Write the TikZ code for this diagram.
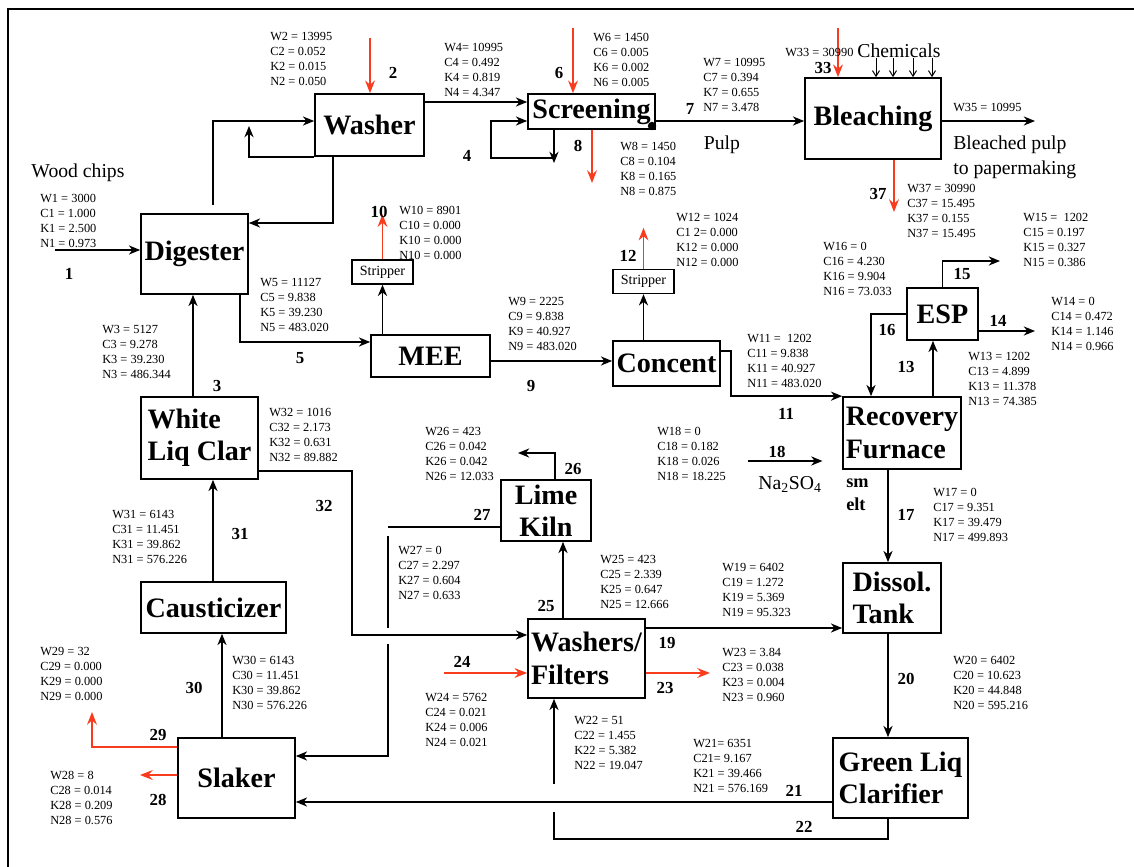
\documentclass[tikz,border=0pt]{standalone}
\usepackage{fontspec}
\setmainfont{Liberation Serif}
\usetikzlibrary{arrows.meta}
\definecolor{sred}{RGB}{250,60,30}
\tikzset{pfd/.style={x=0.025cm,y=-0.025cm}}
\tikzset{unit/.style={draw,line width=1.2pt,inner sep=0pt,align=left,
           font=\fontsize{20}{23}\selectfont\bfseries},
         stripbox/.style={draw,line width=1pt,inner sep=0pt,minimum width=1.525cm,
           minimum height=0.6cm,font=\fontsize{10}{12}\selectfont},
         data/.style={anchor=north west,inner sep=0pt,align=left,
           font=\fontsize{8.8}{10.6}\selectfont},
         num/.style={inner sep=0pt,font=\fontsize{12}{14}\selectfont\bfseries},
         note/.style={inner sep=0pt,align=left,font=\fontsize{14}{17.5}\selectfont}}
\tikzset{flow/.style={line width=1.1pt,-{Stealth[length=8pt,width=6.5pt,inset=2.5pt]}},
         rflow/.style={draw=sred,line width=1pt,-{Stealth[length=9pt,width=7pt,inset=3pt]}},
         chem/.style={line width=0.7pt,-{Straight Barb[length=4pt,width=5pt]}}}

\begin{document}
\begin{tikzpicture}[pfd]
    \useasboundingbox (0,0) rectangle (1134,867);
    \draw[line width=1.5pt] (8,867) -- (8,9) -- (1134,9);
    % process units
    \node[unit,minimum width=2.725cm,minimum height=1.55cm]  (wash)   at (369.5,125)   {Washer};
    \node[unit,minimum width=2.675cm,minimum height=2cm]     (dig)    at (194.5,254)   {Digester};
    \node[unit,minimum width=3.175cm,minimum height=0.875cm] (scr)    at (591.5,111.5) {Screening};
    \node[unit,minimum width=3.4cm,minimum height=2.025cm]   (bleach) at (873,118.5)   {Bleaching};
    \node[stripbox] (stripA) at (382.5,272)   {Stripper};
    \node[stripbox] (stripB) at (643.5,281.5) {Stripper};
    \node[unit,minimum width=2.975cm,minimum height=1.05cm]  (mee)    at (430.5,356)   {MEE};
    \node[unit,minimum width=2.675cm,minimum height=1.125cm] (conc)   at (666.5,363.5) {Concent};
    \node[unit,minimum width=1.775cm,minimum height=1.3cm]   (esp)    at (942.5,314)   {ESP};
    \node[unit,minimum width=2.95cm,minimum height=1.8cm]    (rec)    at (902,433)     {Recovery\\Furnace};
    \node[unit,minimum width=2.925cm,minimum height=2.05cm]  (wlc)    at (199.5,438)   {White\\Liq Clar};
    \node[unit,minimum width=2.25cm,minimum height=1.525cm,align=center] (kiln) at (546,510.5) {Lime\\Kiln};
    \node[unit,minimum width=3.625cm,minimum height=1.275cm] (caus)   at (213.5,607.5) {Causticizer};
    \node[unit,minimum width=2.925cm,minimum height=2cm]     (slak)   at (236.5,778)   {Slaker};
    \node[unit,minimum width=2.925cm,minimum height=1.975cm] (wf)     at (586.5,658.5) {Washers/\\Filters};
    \node[unit,minimum width=2.45cm,minimum height=1.75cm]   (diss)   at (892,598)     {Dissol.\\Tank};
    \node[unit,minimum width=3.375cm,minimum height=2cm]     (glc)    at (900.5,778)   {Green Liq\\Clarifier};
    % free ends
    \coordinate (in1) at (55,250);
    \coordinate (in2) at (370,38);
    \coordinate (in6) at (573,28);
    \coordinate (in33) at (838,28);
    \coordinate (in18) at (748,461);
    \coordinate (in24) at (444,673);
    \coordinate (out8) at (592,183);
    \coordinate (out35) at (1035,121);
    \coordinate (out37) at (894,212);
    \coordinate (out14) at (1035,331);
    \coordinate (out15) at (1000,261);
    \coordinate (out23) at (710,673);
    \coordinate (out26) at (518,453);
    \coordinate (out28) at (140,775);
    \coordinate (out29) at (92,712);
    % fibre line
    \draw[flow] (in1) -- (in1 -| dig.west);
    \draw[flow,shorten <=6pt] (dig.north -| 213,0) |- (wash.west |- 0,121);
    \draw[flow] (wash.south west) -| (249,126);
    \draw[flow] (wash.south -| 333,0) |- (dig.east |- 0,223);
    \draw[rflow] (in2) -- (in2 |- wash.north);
    \draw[flow] (wash.east |- 0,102) -- (scr.west |- 0,102);
    \draw[flow] (scr.south -| 554,0) -- (554,163);
    \draw[flow] (554,158) -| (491,121) -- (scr.west |- 0,121);
    \draw[rflow] (in6) -- (in6 |- scr.north);
    \draw[rflow] (scr.south -| out8) -- (out8);
    \draw[flow] (scr.east |- 0,121) -- (bleach.west |- 0,121);
    \fill (652,126) circle (3pt);
    \draw[rflow] (in33) -- (in33 |- bleach.north);
    \foreach \x in {876,893,913,932} \draw[chem] (\x,58) -- (\x,0 |- bleach.north);
    \draw[flow] (bleach.east |- out35) -- (out35);
    \draw[rflow] (bleach.south -| out37) -- (out37);
    % liquor / recovery
    \draw[flow] (dig.south -| 240,0) |- (mee.west |- 0,342);
    \draw[flow] (mee.north -| stripA) -- (stripA.south);
    \draw[rflow] (stripA.north) -- ++(0,-45);
    \draw[flow] (mee.east |- 0,361) -- (conc.west |- 0,361);
    \draw[flow] (conc.north -| stripB) -- (stripB.south);
    \draw[rflow] (stripB.north) -- ++(0,-41);
    \draw[flow] (conc.east |- 0,351) -- (731,351) |- (rec.north west);
    \draw[flow,shorten >=14pt] (in18) -- (in18 -| rec.west);
    \draw[flow] (rec.north -| 933,0) -- (esp.south -| 933,0);
    \draw[flow] (esp.west) -| (rec.north -| 871,0);
    \draw[flow] (esp.north) |- (out15);
    \draw[flow] (esp.east |- out14) -- (out14);
    \draw[flow] (rec.south -| 888,0) -- (diss.north -| 888,0);
    \draw[flow] (diss.south -| 888,0) -- (glc.north -| 888,0);
    \draw[flow] (glc.west |- 0,802) -- (slak.east |- 0,802);
    \draw[line width=1.1pt] (glc.south -| 888,0) |- (554,839) -- (554,812);
    \draw[flow] (554,784) -- (wf.south -| 554,0);
    \draw[flow] (wf.east |- 0,628) -- (diss.west |- 0,628);
    \draw[rflow] (wf.east |- out23) -- (out23);
    \draw[rflow] (in24) -- (in24 -| wf.west);
    \draw[flow] (wf.north -| 563,0) -- (kiln.south -| 563,0);
    \draw[flow] (kiln.north -| 555,0) |- (out26);
    \draw[line width=1.1pt] (kiln.west |- 0,527) -- (388,527);
    \draw[line width=1.1pt] (388,536) -- (388,628);
    \draw[flow] (388,644) |- (slak.east |- 0,756);
    \draw[flow] (wlc.east |- 0,471) -| (352,635) -- (wf.west |- 0,635);
    \draw[flow] (caus.north -| 213,0) -- (wlc.south -| 213,0);
    \draw[flow] (wlc.north -| 193,0) -- (dig.south -| 193,0);
    \draw[flow] (slak.north -| 222,0) -- (caus.south -| 222,0);
    \draw[rflow] (slak.west |- 0,747) -| (out29);
    \draw[rflow] (slak.west |- out28) -- (out28);
    % stream numbers
    \node[num] (n1) at (69,274) {1};
    \node[num] (n2) at (393,73) {2};
    \node[num] (n3) at (217,386) {3};
    \node[num] (n4) at (467,156) {4};
    \node[num] (n5) at (300,358) {5};
    \node[num] (n6) at (559,73) {6};
    \node[num] (n7) at (690,109) {7};
    \node[num] (n8) at (578,146) {8};
    \node[num] (n9) at (531,386) {9};
    \node[num] (n10) at (379,212) {10};
    \node[num] (n11) at (786,414) {11};
    \node[num] (n12) at (628,256) {12};
    \node[num] (n13) at (906,367) {13};
    \node[num] (n14) at (998,321) {14};
    \node[num] (n15) at (962,274) {15};
    \node[num] (n16) at (887,330) {16};
    \node[num] (n17) at (906,515) {17};
    \node[num] (n18) at (777,452) {18};
    \node[num] (n19) at (667,643) {19};
    \node[num] (n20) at (906,679) {20};
    \node[num] (n21) at (794,791) {21};
    \node[num] (n22) at (804,827) {22};
    \node[num] (n23) at (665,688) {23};
    \node[num] (n24) at (462,662) {24};
    \node[num] (n25) at (546,606) {25};
    \node[num] (n26) at (573,469) {26};
    \node[num] (n27) at (482,515) {27};
    \node[num] (n28) at (158,800) {28};
    \node[num] (n29) at (158,735) {29};
    \node[num] (n30) at (194,688) {30};
    \node[num] (n31) at (240,534) {31};
    \node[num] (n32) at (324,506) {32};
    \node[num] (n33) at (823,68) {33};
    \node[num] (n37) at (878,194) {37};
    % stream data
    \node[data] (d1) at (40,194) {W1 = 3000\\C1 = 1.000\\K1 = 2.500\\N1 = 0.973};
    \node[data] (d2) at (270,32) {W2 = 13995\\C2 = 0.052\\K2 = 0.015\\N2 = 0.050};
    \node[data] (d3) at (102,325) {W3 = 5127\\C3 = 9.278\\K3 = 39.230\\N3 = 486.344};
    \node[data] (d4) at (444,43) {W4= 10995\\C4 = 0.492\\K4 = 0.819\\N4 = 4.347};
    \node[data] (d5) at (260,278) {W5 = 11127\\C5 = 9.838\\K5 = 39.230\\N5 = 483.020};
    \node[data] (d6) at (593,33) {W6 = 1450\\C6 = 0.005\\K6 = 0.002\\N6 = 0.005};
    \node[data] (d7) at (703,58) {W7 = 10995\\C7 = 0.394\\K7 = 0.655\\N7 = 3.478};
    \node[data] (d8) at (620,142) {W8 = 1450\\C8 = 0.104\\K8 = 0.165\\N8 = 0.875};
    \node[data] (d9) at (508,297) {W9 = 2225\\C9 = 9.838\\K9 = 40.927\\N9 = 483.020};
    \node[data] (d10) at (399,206) {W10 = 8901\\C10 = 0.000\\K10 = 0.000\\N10 = 0.000};
    \node[data] (d11) at (747,334) {W11 = \ 1202\\C11 = 9.838\\K11 = 40.927\\N11 = 483.020};
    \node[data] (d12) at (676,213) {W12 = 1024\\C1 2= 0.000\\K12 = 0.000\\N12 = 0.000};
    \node[data] (d13) at (968,352) {W13 = 1202\\C13 = 4.899\\K13 = 11.378\\N13 = 74.385};
    \node[data] (d14) at (1051,297) {W14 = 0\\C14 = 0.472\\K14 = 1.146\\N14 = 0.966};
    \node[data] (d15) at (1023,213) {W15 = \ 1202\\C15 = 0.197\\K15 = 0.327\\N15 = 0.386};
    \node[data] (d16) at (823,242) {W16 = 0\\C16 = 4.230\\K16 = 9.904\\N16 = 73.033};
    \node[data] (d17) at (933,488) {W17 = 0\\C17 = 9.351\\K17 = 39.479\\N17 = 499.893};
    \node[data] (d18) at (657,427) {W18 = 0\\C18 = 0.182\\K18 = 0.026\\N18 = 18.225};
    \node[data] (d19) at (722,563) {W19 = 6402\\C19 = 1.272\\K19 = 5.369\\N19 = 95.323};
    \node[data] (d20) at (953,656) {W20 = 6402\\C20 = 10.623\\K20 = 44.848\\N20 = 595.216};
    \node[data] (d21) at (693,739) {W21= 6351\\C21= 9.167\\K21 = 39.466\\N21 = 576.169};
    \node[data] (d22) at (574,716) {W22 = 51\\C22 = 1.455\\K22 = 5.382\\N22 = 19.047};
    \node[data] (d23) at (722,648) {W23 = 3.84\\C23 = 0.038\\K23 = 0.004\\N23 = 0.960};
    \node[data] (d24) at (425,693) {W24 = 5762\\C24 = 0.021\\K24 = 0.006\\N24 = 0.021};
    \node[data] (d25) at (600,555) {W25 = 423\\C25 = 2.339\\K25 = 0.647\\N25 = 12.666};
    \node[data] (d26) at (425,427) {W26 = 423\\C26 = 0.042\\K26 = 0.042\\N26 = 12.033};
    \node[data] (d27) at (398,546) {W27 = 0\\C27 = 2.297\\K27 = 0.604\\N27 = 0.633};
    \node[data] (d28) at (50,771) {W28 = 8\\C28 = 0.014\\K28 = 0.209\\N28 = 0.576};
    \node[data] (d29) at (40,647) {W29 = 32\\C29 = 0.000\\K29 = 0.000\\N29 = 0.000};
    \node[data] (d30) at (232,656) {W30 = 6143\\C30 = 11.451\\K30 = 39.862\\N30 = 576.226};
    \node[data] (d31) at (112,510) {W31 = 6143\\C31 = 11.451\\K31 = 39.862\\N31 = 576.226};
    \node[data] (d32) at (269,408) {W32 = 1016\\C32 = 2.173\\K32 = 0.631\\N32 = 89.882};
    \node[data] (d37) at (907,184) {W37 = 30990\\C37 = 15.495\\K37 = 0.155\\N37 = 15.495};
    \node[data,anchor=west] (d33) at (785,52) {W33 = 30990};
    \node[data,anchor=west] (d35) at (953,107) {W35 = 10995};
    % other text
    \node[note] (chips) at (78,173) {Wood chips};
    \node[note] (chemicals) at (899,51) {Chemicals};
    \node[note] (pulp) at (722,145) {Pulp};
    \node[note,anchor=north west] (bpulp) at (953,136) {Bleached pulp\\to papermaking};
    \node[note] (salt) at (790,484) {Na\textsubscript{2}SO\textsubscript{4}};
    \node[note,anchor=north west,font=\fontsize{13}{16}\selectfont\bfseries] (smelt) at (846,479) {sm\\elt};
\end{tikzpicture}
\end{document}
